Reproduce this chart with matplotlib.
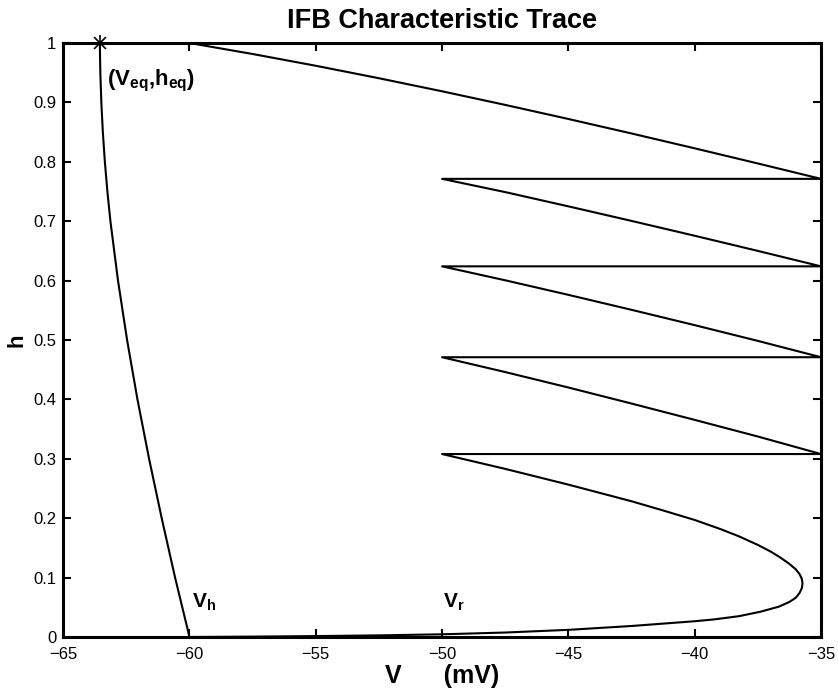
import matplotlib
matplotlib.use('Agg')
import numpy as np
import matplotlib.pyplot as plt

plt.rcParams['font.family'] = ['Liberation Sans', 'DejaVu Sans']
plt.rcParams['mathtext.fontset'] = 'custom'
plt.rcParams['mathtext.rm'] = 'Liberation Sans:bold'
plt.rcParams['mathtext.it'] = 'Liberation Sans:bold'
plt.rcParams['mathtext.bf'] = 'Liberation Sans:bold'

# trajectory pieces (V in mV, h)
top_v = [-60.0, -57.5, -55.0, -52.5, -50.0, -47.5, -45.0, -42.5, -40.0, -37.5, -35.0]
top_h = [1.000, 0.9815, 0.9617, 0.9407, 0.9187, 0.8958, 0.8721, 0.8477, 0.8227, 0.7972, 0.7713]

segA_v = [-35.0, -50.0, -47.5, -45.0, -42.5, -40.0, -37.5, -35.0]
segA_h = [0.7713, 0.7713, 0.749, 0.725, 0.7005, 0.6755, 0.650, 0.624]

segB_v = [-35.0, -50.0, -47.5, -45.0, -42.5, -40.0, -37.5, -35.0]
segB_h = [0.624, 0.624, 0.6005, 0.576, 0.5508, 0.525, 0.4985, 0.471]

segC_v = [-35.0, -50.0, -47.5, -45.0, -42.5, -40.0, -37.5, -35.0]
segC_h = [0.471, 0.471, 0.446, 0.420, 0.393, 0.3655, 0.3375, 0.308]

low_v = [-35.0, -50.0, -47.5, -45.0, -42.5, -41.25, -40.0, -39.0, -38.25, -37.5, -37.0,
         -36.6, -36.25, -36.0, -35.85, -35.76, -35.73, -35.76, -35.85, -36.0, -36.25,
         -36.67, -37.4, -38.25, -39.25, -40.0, -42.5, -45.0, -47.5, -50.0, -52.5,
         -55.0, -57.5, -60.0]
low_h = [0.308, 0.308, 0.283, 0.2565, 0.2285, 0.213, 0.197, 0.182, 0.1695, 0.155, 0.144,
         0.1335, 0.123, 0.114, 0.106, 0.098, 0.090, 0.082, 0.074, 0.066, 0.059,
         0.051, 0.0425, 0.035, 0.0295, 0.0265, 0.0185, 0.012, 0.0075, 0.0045, 0.0027,
         0.0015, 0.0006, 0.0]

left_v = [-60.0, -60.57, -61.10, -61.60, -62.06, -62.47, -62.83, -63.13, -63.25,
          -63.35, -63.43, -63.49, -63.53, -63.55]
left_h = [0.0, 0.1, 0.2, 0.3, 0.4, 0.5, 0.6, 0.7, 0.75, 0.8, 0.85, 0.9, 0.95, 1.0]

v_eq, h_eq = -63.55, 1.0

xticks = [-65, -60, -55, -50, -45, -40, -35]
yticks = [0, 0.1, 0.2, 0.3, 0.4, 0.5, 0.6, 0.7, 0.8, 0.9, 1]
ytick_labels = ['0', '0.1', '0.2', '0.3', '0.4', '0.5', '0.6', '0.7', '0.8', '0.9', '1']

fig = plt.figure(figsize=(8.38, 6.96), dpi=100)
ax = fig.add_axes([0.0754, 0.0848, 0.9043, 0.8534])

traj_v = top_v + segA_v + segB_v + segC_v + low_v + left_v
traj_h = top_h + segA_h + segB_h + segC_h + low_h + left_h
ax.plot(traj_v, traj_h, '-', color='black', linewidth=1.5)

# matlab style asterisk = plus + cross
ax.plot([v_eq], [h_eq], '+', color='black', markersize=11, markeredgewidth=1.2, clip_on=False)
ax.plot([v_eq], [h_eq], 'x', color='black', markersize=9, markeredgewidth=1.2, clip_on=False)

ax.text(-63.25, 0.928, r'(V$_{\mathbf{eq}}$,h$_{\mathbf{eq}}$)', fontsize=16,
        fontweight='bold', ha='left', va='baseline')
ax.text(-59.92, 0.05, r'V$_{\mathbf{h}}$', fontsize=15, fontweight='bold',
        ha='left', va='baseline')
ax.text(-49.98, 0.05, r'V$_{\mathbf{r}}$', fontsize=15, fontweight='bold',
        ha='left', va='baseline')

ax.set_xlim(-65, -35)
ax.set_ylim(0, 1)
ax.set_xticks(xticks)
ax.set_yticks(yticks)
ax.set_xticklabels(['\u2212' + str(-t) for t in xticks])
ax.set_yticklabels(ytick_labels)
ax.tick_params(axis='both', which='major', direction='in', length=5.5, width=1.5,
               top=True, right=True, labelsize=12, pad=5)
ax.tick_params(axis='x', pad=7)
for sp in ax.spines.values():
    sp.set_linewidth(2.2)

ax.set_title('IFB Characteristic Trace', fontsize=19.5, fontweight='bold', pad=11)
ax.set_xlabel('V      (mV)', fontsize=18, fontweight='bold', labelpad=2)
ax.set_ylabel('h', fontsize=16, fontweight='bold', labelpad=4)

fig.savefig('out.png', dpi=100)
